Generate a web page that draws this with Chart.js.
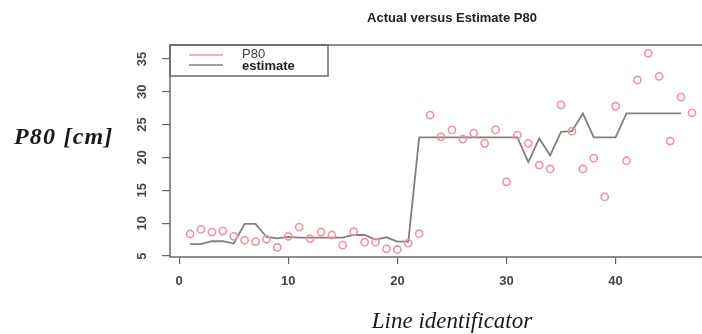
<!DOCTYPE html>
<html><head><meta charset="utf-8">
<script src="https://cdn.jsdelivr.net/npm/chart.js@4.4.1/dist/chart.umd.min.js"></script>
<style>html,body{margin:0;padding:0;background:#fff;overflow:hidden;}canvas{display:block;}</style>
</head><body>
<canvas id="c" width="702" height="334"></canvas>
<script>
const lineIds = [1,2,3,4,5,6,7,8,9,10,11,12,13,14,15,16,17,18,19,20,21,22,23,24,25,26,27,28,29,30,31,32,33,34,35,36,37,38,39,40,41,42,43,44,45,46,47];
const p80Actual = [8.35,9.05,8.65,8.8,8.0,7.4,7.2,7.55,6.3,8.0,9.4,7.65,8.65,8.2,6.65,8.7,7.1,7.1,6.1,6.0,6.95,8.4,
  26.45,23.15,24.2,22.8,23.7,22.15,24.2,16.3,23.4,22.15,18.85,18.25,28.0,24.0,18.25,19.9,14.0,27.8,19.5,31.8,35.85,32.35,22.5,29.2,26.8];
const p80Estimate = [6.8,6.8,7.25,7.25,6.9,9.9,9.9,7.9,7.7,7.9,7.8,7.8,7.8,7.8,7.8,8.2,8.2,7.5,7.85,7.2,7.2,
  23.05,23.05,23.05,23.05,23.05,23.05,23.05,23.05,23.05,23.05,19.3,22.9,20.3,23.9,24.0,26.7,23.05,23.05,23.05,
  26.7,26.7,26.7,26.7,26.7,26.7,null];
const xTickValues = [0,10,20,30,40];
const yTickValues = [5,10,15,20,25,30,35];
const chartTitle = 'Actual versus Estimate P80';
const xAxisTitle = 'Line identificator';
const yAxisTitle = 'P80 [cm]';
const legendLabels = ['P80','estimate'];

const pinkColor = '#f0939e';
const greyColor = '#808080';

const decor = {
  id: 'decor',
  afterDraw(chart) {
    const ctx = chart.ctx, a = chart.chartArea;
    ctx.save();
    ctx.strokeStyle = '#6a6a6a';
    ctx.lineWidth = 1.5;
    ctx.beginPath();
    ctx.moveTo(a.right + 20, a.top); ctx.lineTo(a.left, a.top);
    ctx.lineTo(a.left, a.bottom); ctx.lineTo(a.right + 20, a.bottom);
    ctx.stroke();
    const lx = a.left, ly = a.top, lw = 158, lh = 31;
    ctx.strokeRect(lx, ly, lw, lh);
    ctx.lineWidth = 1.6;
    ctx.strokeStyle = pinkColor;
    ctx.beginPath(); ctx.moveTo(lx + 19, ly + 10); ctx.lineTo(lx + 53, ly + 10); ctx.stroke();
    ctx.strokeStyle = greyColor;
    ctx.beginPath(); ctx.moveTo(lx + 19, ly + 20); ctx.lineTo(lx + 53, ly + 20); ctx.stroke();
    ctx.textBaseline = 'middle';
    ctx.textAlign = 'left';
    ctx.fillStyle = '#444';
    ctx.font = '13px "Liberation Sans", Arial, sans-serif';
    ctx.fillText(legendLabels[0], lx + 72, ly + 9.5);
    ctx.fillStyle = '#222';
    ctx.font = 'bold 13px "Liberation Sans", Arial, sans-serif';
    ctx.fillText(legendLabels[1], lx + 72, ly + 21);
    ctx.textAlign = 'center';
    ctx.fillStyle = '#222';
    ctx.font = 'bold 13px "Liberation Sans", Arial, sans-serif';
    ctx.fillText(chartTitle, 452, 18);
    ctx.textBaseline = 'alphabetic';
    ctx.fillStyle = '#1a1a1a';
    ctx.font = 'italic bold 24px "Liberation Serif", serif';
    ctx.textAlign = 'left';
    try { ctx.letterSpacing = '1.2px'; } catch (e) {}
    ctx.fillText(yAxisTitle, 14, 144);
    try { ctx.letterSpacing = '0px'; } catch (e) {}
    ctx.textAlign = 'center';
    ctx.font = 'italic 23px "Liberation Serif", serif';
    ctx.fillText(xAxisTitle, 452, 328);
    ctx.restore();
  }
};

const tickFont = {family: '"Liberation Sans", Arial, sans-serif', size: 13, weight: 'bold'};

new Chart(document.getElementById('c'), {
  type: 'scatter',
  data: {
    datasets: [
      {
        label: legendLabels[0],
        data: lineIds.map((x, i) => ({x: x, y: p80Actual[i]})),
        showLine: false,
        pointStyle: 'circle',
        pointRadius: 3.6,
        pointBorderWidth: 1.6,
        pointBorderColor: pinkColor,
        pointBackgroundColor: 'rgba(0,0,0,0)',
        order: 0
      },
      {
        label: legendLabels[1],
        data: lineIds.map((x, i) => ({x: x, y: p80Estimate[i]})),
        showLine: true,
        spanGaps: false,
        borderColor: greyColor,
        borderWidth: 1.8,
        pointRadius: 0,
        tension: 0,
        order: 1
      }
    ]
  },
  options: {
    responsive: false,
    animation: false,
    events: [],
    layout: {autoPadding: false, padding: {left: 120, top: 45, right: 0, bottom: 0}},
    plugins: {legend: {display: false}, tooltip: {enabled: false}, title: {display: false}},
    scales: {
      x: {
        type: 'linear', min: -0.84, max: 47.92,
        afterBuildTicks: s => { s.ticks = xTickValues.map(v => ({value: v})); },
        afterFit: s => { s.height = 77; },
        grid: {drawOnChartArea: false, drawTicks: true, tickLength: 7, color: '#666', lineWidth: 1.2},
        border: {display: false},
        ticks: {padding: 10, color: '#444', font: tickFont, maxRotation: 0, autoSkip: false}
      },
      y: {
        type: 'linear', min: 4.85, max: 37.12,
        afterBuildTicks: s => { s.ticks = yTickValues.map(v => ({value: v})); },
        afterFit: s => { s.width = 50; },
        grid: {drawOnChartArea: false, drawTicks: true, tickLength: 8, color: '#666', lineWidth: 1.2},
        border: {display: false},
        ticks: {padding: 12, color: '#444', font: tickFont, minRotation: 90, maxRotation: 90, crossAlign: 'center', autoSkip: false}
      }
    }
  },
  plugins: [decor]
});
</script>
</body></html>
